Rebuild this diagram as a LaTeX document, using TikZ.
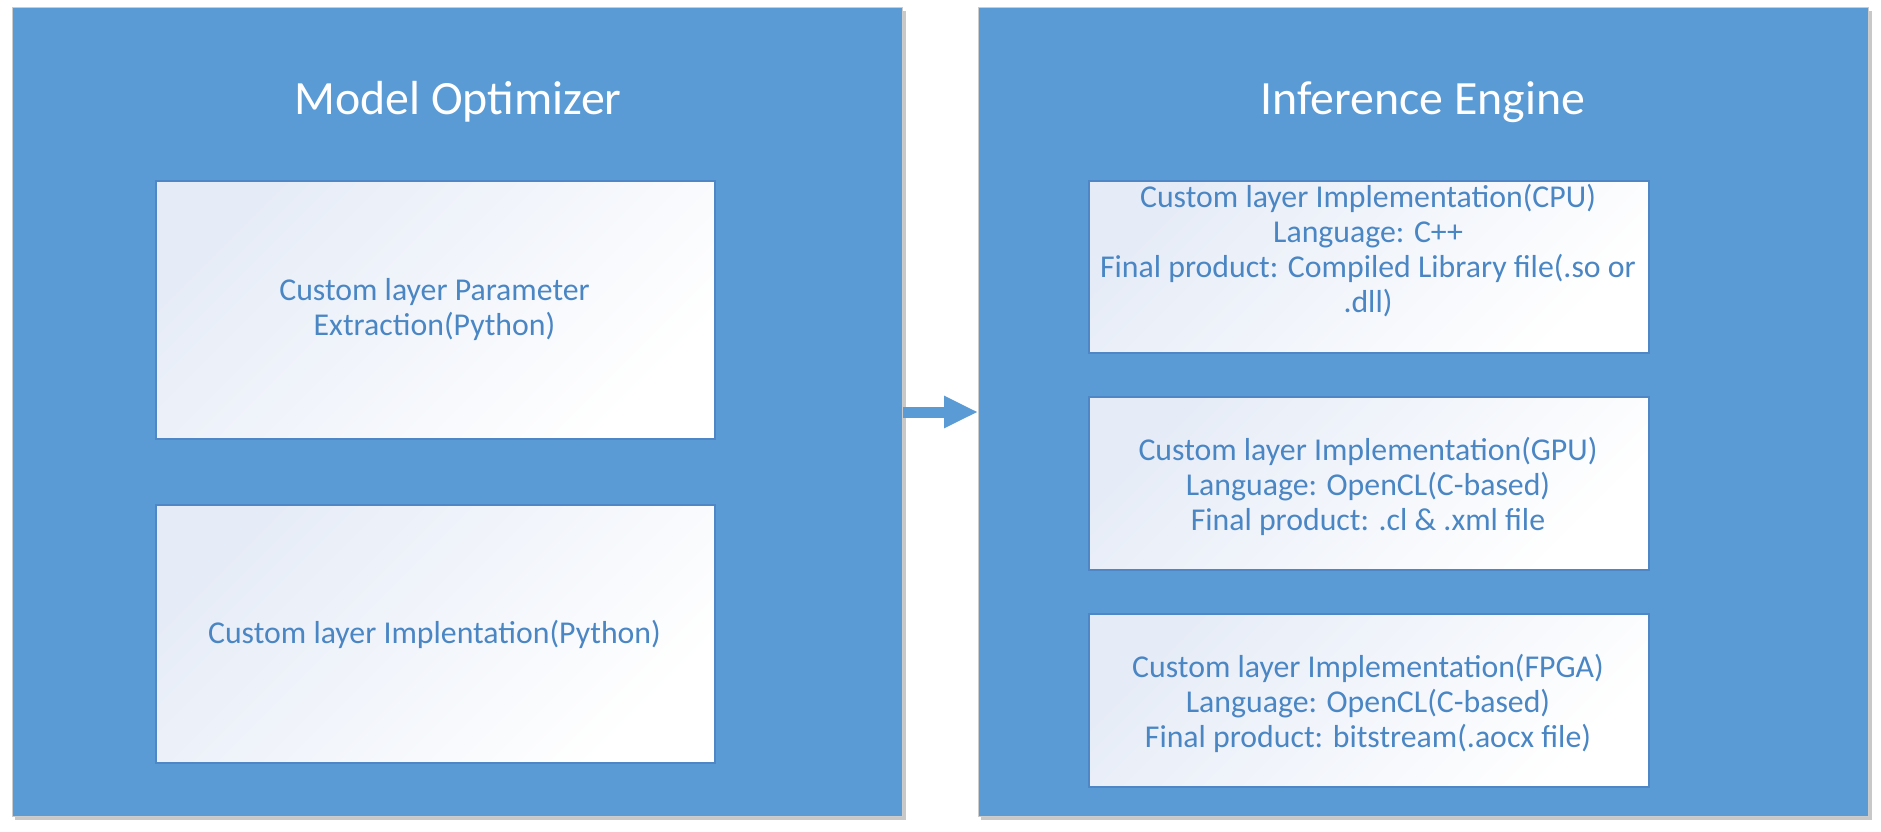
\documentclass[tikz,border=0pt]{standalone}
\usepackage{fontspec}
\setmainfont{Carlito}
\usetikzlibrary{arrows.meta}
\definecolor{panel}{HTML}{5B9BD5}
\definecolor{boxline}{HTML}{4F86C6}
\definecolor{txt}{HTML}{4A86C4}
\definecolor{boxtl}{HTML}{E6ECF7}
\definecolor{boxmid}{HTML}{FAFBFD}
\definecolor{shadowc}{HTML}{C8C8C8}
\begin{document}
\begin{tikzpicture}[x=1pt,y=-1pt,
  panelbox/.style={draw=gray!40, line width=1pt, fill=panel, anchor=north west,
    inner sep=0pt, minimum width=890pt, minimum height=809pt},
  innerbox/.style={draw=boxline, line width=1.5pt, top color=boxtl, middle color=boxmid,
    bottom color=white, shading angle=45, anchor=north west, inner sep=0pt,
    minimum width=559pt},
  titletext/.style={text=white, font=\fontsize{47.8}{57}\selectfont, inner sep=0pt},
  bodytext/.style={text=txt, font=\fontsize{31.8}{35}\selectfont, align=center, inner sep=0pt},
  flow/.style={panel, line width=11pt, -{Triangle[length=34pt, width=30pt]}}
]
\useasboundingbox (0,0) rectangle (1881,831);
% shadows
\fill[shadowc] (15,11) rectangle (906,820);
\fill[shadowc] (981,11) rectangle (1872,820);
% panels
\node[panelbox] (mo) at (12,7) {};
\node[panelbox] (ie) at (978,7) {};
\node[titletext] (motitle) at (458,102) {Model Optimizer};
\node[titletext] (ietitle) at (1423,102) {Inference Engine};
% left boxes
\node[innerbox, minimum height=258pt] (pe) at (155,180) {};
\node[innerbox, minimum height=258pt] (pi) at (155,504) {};
\node[bodytext] (pet) at (434.5,310) {Custom layer Parameter\\Extraction(Python)};
\node[bodytext] (pit) at (434.5,634) {Custom layer Implentation(Python)};
% right boxes
\node[innerbox, minimum width=560pt, minimum height=172pt] (cpu) at (1088,180) {};
\node[innerbox, minimum width=560pt, minimum height=173pt] (gpu) at (1088,396) {};
\node[innerbox, minimum width=560pt, minimum height=173pt] (fpga) at (1088,613) {};
\node[bodytext] (cput) at (1368,251) {Custom layer Implementation(CPU)\\Language: C++\\Final product: Compiled Library file(.so or\\.dll)};
\node[bodytext] (gput) at (1368,486) {Custom layer Implementation(GPU)\\Language: OpenCL(C-based)\\Final product: .cl \& .xml file};
\node[bodytext] (fpgat) at (1368,703) {Custom layer Implementation(FPGA)\\Language: OpenCL(C-based)\\Final product: bitstream(.aocx file)};
% arrow
\draw[flow] (mo.east |- 0,412) -- (ie.west |- 0,412);
\end{tikzpicture}
\end{document}
